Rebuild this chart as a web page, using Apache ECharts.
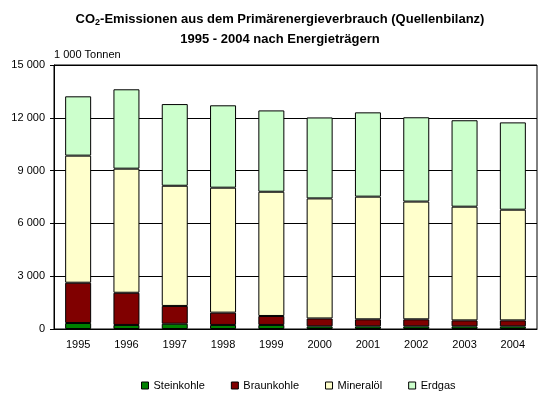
<!DOCTYPE html>
<html>
<head>
<meta charset="utf-8">
<script src="https://cdn.jsdelivr.net/npm/echarts@6/dist/echarts.min.js"></script>
<style>
  html, body { margin: 0; padding: 0; background: #fff; }
  #myChart { width: 560px; height: 400px; }
</style>
</head>
<body>
<div id="myChart"></div>
<script>
// Daten (1 000 Tonnen)
const years = ["1995", "1996", "1997", "1998", "1999", "2000", "2001", "2002", "2003", "2004"];
const steinkohle = [340, 230, 300, 230, 230, 150, 150, 150, 150, 150];
const braunkohle = [2290, 1830, 1010, 700, 510, 450, 400, 400, 340, 340];
const mineraloel = [7220, 7050, 6830, 7100, 7060, 6820, 6970, 6690, 6460, 6290];
const erdgas = [3370, 4510, 4640, 4680, 4620, 4600, 4790, 4790, 4910, 4960];
const yTicks = [0, 3000, 6000, 9000, 12000, 15000];

const chartInstance = echarts.init(document.getElementById("myChart"));
const font = "Arial, 'Liberation Sans', sans-serif";

const makeBar = (name, data, color) => ({
  name: name,
  type: "bar",
  stack: "co2",
  data: data,
  barWidth: 26,
  itemStyle: { color: color, borderColor: "#000", borderWidth: 1 },
});

const option = {
  animation: false,
  backgroundColor: "#fff",
  textStyle: { fontFamily: font },
  title: {
    text: "{t|CO}{sub|2}{t|-Emissionen aus dem Primärenergieverbrauch (Quellenbilanz)}\n{t|1995 - 2004 nach Energieträgern}",
    left: "center",
    top: 4,
    textStyle: {
      fontFamily: font,
      rich: {
        t: { fontSize: 13, fontWeight: "bold", color: "#000", lineHeight: 20, fontFamily: font },
        sub: { fontSize: 9, fontWeight: "bold", color: "#000", lineHeight: 20, padding: [7, 0, 0, 0], fontFamily: font },
      },
    },
  },
  legend: {
    left: 136,
    top: 375,
    itemWidth: 7,
    itemHeight: 7,
    itemGap: 26,
    icon: "rect",
    textStyle: { fontSize: 11, color: "#000", fontFamily: font },
    itemStyle: { borderColor: "#000", borderWidth: 1 },
    data: ["Steinkohle", "Braunkohle", "Mineralöl", "Erdgas"],
  },
  grid: {
    left: 54,
    right: 23,
    top: 65,
    bottom: 71,
    show: true,
    borderColor: "#000",
    borderWidth: 1,
  },
  xAxis: {
    type: "category",
    data: years,
    axisLine: { lineStyle: { color: "#000", width: 1 } },
    axisTick: { show: false },
    axisLabel: { color: "#000", fontSize: 11, margin: 10, fontFamily: font },
  },
  yAxis: {
    type: "value",
    min: yTicks[0],
    max: yTicks[yTicks.length - 1],
    interval: 3000,
    name: "1 000 Tonnen",
    nameLocation: "end",
    nameGap: 5,
    nameTextStyle: { color: "#000", fontSize: 11, align: "left", verticalAlign: "bottom", fontFamily: font },
    axisLine: { show: true, lineStyle: { color: "#000", width: 1 } },
    axisTick: { show: true, length: 4, lineStyle: { color: "#000" } },
    axisLabel: {
      color: "#000",
      fontSize: 11,
      margin: 9,
      fontFamily: font,
      formatter: (v) => String(v).replace(/\B(?=(\d{3})+(?!\d))/g, " "),
    },
    splitLine: { show: true, lineStyle: { color: "#000", width: 1 } },
  },
  series: [
    makeBar("Steinkohle", steinkohle, "#008000"),
    makeBar("Braunkohle", braunkohle, "#800000"),
    makeBar("Mineralöl", mineraloel, "#FFFFCC"),
    makeBar("Erdgas", erdgas, "#CCFFCC"),
  ],
};
chartInstance.setOption(option);
</script>
</body>
</html>
